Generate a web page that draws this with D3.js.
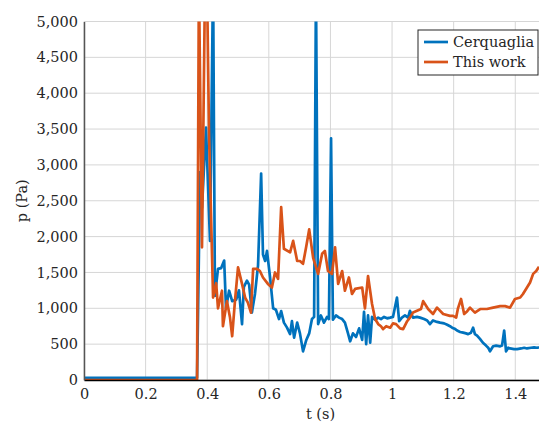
<!DOCTYPE html>
<html>
<head>
<meta charset="utf-8">
<script src="https://cdn.jsdelivr.net/npm/d3@7"></script>
<style>
  body { margin: 0; background: #fff; }
  svg text { font-family: "DejaVu Serif", serif; fill: #262626; }
</style>
</head>
<body>
<svg id="chart" width="539" height="424"></svg>
<script>
// Cerquaglia series (t in s, p in Pa)
const cerqT = [0, 0.367, 0.377, 0.383, 0.396, 0.409, 0.419, 0.425, 0.435, 0.445, 0.455, 0.461, 0.471, 0.481, 0.494, 0.503, 0.513, 0.519, 0.529, 0.536, 0.545, 0.555, 0.565, 0.575, 0.581, 0.588, 0.594, 0.604, 0.614, 0.623, 0.633, 0.640, 0.649, 0.659, 0.669, 0.675, 0.682, 0.692, 0.701, 0.711, 0.721, 0.731, 0.740, 0.747, 0.753, 0.760, 0.769, 0.779, 0.789, 0.795, 0.802, 0.808, 0.818, 0.828, 0.838, 0.847, 0.857, 0.864, 0.873, 0.883, 0.893, 0.903, 0.909, 0.916, 0.922, 0.929, 0.935, 0.945, 0.955, 0.964, 0.974, 0.984, 0.994, 1.003, 1.016, 1.023, 1.032, 1.042, 1.052, 1.058, 1.068, 1.081, 1.091, 1.104, 1.114, 1.123, 1.133, 1.146, 1.156, 1.169, 1.179, 1.188, 1.195, 1.205, 1.211, 1.221, 1.231, 1.240, 1.247, 1.256, 1.263, 1.269, 1.276, 1.286, 1.295, 1.305, 1.312, 1.318, 1.328, 1.338, 1.351, 1.357, 1.364, 1.370, 1.377, 1.383, 1.396, 1.406, 1.419, 1.429, 1.438, 1.451, 1.461, 1.471, 1.477];
const cerqP = [30, 30, 2900, 2400, 3520, 1940, 5600, 1175, 1550, 1560, 1665, 1000, 1245, 1100, 1120, 1250, 780, 1300, 1385, 1330, 940, 1200, 1600, 2880, 1750, 1660, 1800, 1430, 1000, 980, 850, 960, 800, 730, 640, 820, 590, 800, 650, 400, 550, 650, 850, 880, 5500, 780, 900, 800, 880, 850, 3370, 840, 900, 870, 850, 800, 650, 540, 650, 600, 720, 560, 950, 500, 900, 520, 880, 840, 870, 850, 880, 860, 870, 880, 1150, 820, 870, 900, 870, 965, 870, 880, 870, 850, 830, 780, 830, 810, 800, 790, 770, 750, 730, 710, 690, 670, 660, 650, 640, 660, 730, 640, 620, 570, 520, 480, 450, 400, 470, 480, 470, 480, 690, 400, 450, 440, 430, 430, 440, 450, 440, 450, 455, 450, 455];

// This work series
const workT = [0, 0.367, 0.373, 0.383, 0.393, 0.399, 0.406, 0.419, 0.429, 0.435, 0.448, 0.451, 0.464, 0.474, 0.481, 0.490, 0.500, 0.513, 0.523, 0.532, 0.542, 0.549, 0.562, 0.571, 0.581, 0.597, 0.610, 0.620, 0.630, 0.640, 0.649, 0.669, 0.679, 0.692, 0.701, 0.711, 0.721, 0.731, 0.744, 0.760, 0.773, 0.782, 0.792, 0.805, 0.815, 0.825, 0.838, 0.847, 0.860, 0.870, 0.880, 0.903, 0.912, 0.922, 0.935, 0.945, 0.955, 0.964, 0.971, 0.981, 0.994, 1.003, 1.013, 1.026, 1.036, 1.049, 1.058, 1.068, 1.081, 1.094, 1.101, 1.117, 1.133, 1.146, 1.166, 1.188, 1.198, 1.208, 1.214, 1.224, 1.234, 1.244, 1.253, 1.269, 1.286, 1.308, 1.328, 1.351, 1.367, 1.383, 1.399, 1.416, 1.425, 1.438, 1.448, 1.458, 1.468, 1.477];
const workP = [0, 0, 5600, 1850, 5600, 5600, 3400, 1150, 1350, 1000, 1245, 750, 1100, 870, 610, 1100, 1570, 1340, 1150, 1080, 940, 1550, 1550, 1520, 1430, 1340, 1290, 1500, 1410, 2410, 1830, 1780, 1940, 1660, 1660, 1620, 1850, 2100, 1700, 1480, 1760, 1800, 1520, 1480, 1850, 1340, 1520, 1245, 1430, 1200, 1270, 1290, 1000, 1450, 1060, 850, 780, 750, 710, 750, 730, 790, 780, 720, 710, 820, 870, 940, 965, 990, 1100, 990, 920, 1010, 920, 895, 895, 870, 1000, 1130, 920, 960, 1010, 940, 990, 990, 1010, 1030, 1030, 1010, 1130, 1150, 1200, 1290, 1360, 1480, 1520, 1580, 1700];

const xTicks = [0, 0.2, 0.4, 0.6, 0.8, 1, 1.2, 1.4];
const yTicks = [0, 500, 1000, 1500, 2000, 2500, 3000, 3500, 4000, 4500, 5000];
const seriesNames = ["Cerquaglia", "This work"];
const seriesColors = ["#0072BD", "#D95319"];

const margin = {left: 84, right: 0, top: 21.5, bottom: 44};
const width = 539, height = 424;
const fontSize = "14.5px";
const svg = d3.select("#chart");

const x = d3.scaleLinear().domain([0, 1.477]).range([margin.left, width - margin.right]);
const y = d3.scaleLinear().domain([0, 5000]).range([height - margin.bottom, margin.top]);

// grid
svg.append("g").selectAll("line").data(xTicks).join("line")
  .attr("x1", d => x(d)).attr("x2", d => x(d))
  .attr("y1", y(0)).attr("y2", y(5000))
  .attr("stroke", "#d6d6d6").attr("stroke-width", 1);
svg.append("g").selectAll("line").data(yTicks).join("line")
  .attr("x1", x(0)).attr("x2", width)
  .attr("y1", d => y(d)).attr("y2", d => y(d))
  .attr("stroke", "#d6d6d6").attr("stroke-width", 1);

// clip
svg.append("clipPath").attr("id", "clip").append("rect")
  .attr("x", margin.left).attr("y", margin.top)
  .attr("width", width - margin.left).attr("height", y(0) - margin.top);

const line = d3.line().x(d => x(d[0])).y(d => y(d[1]));
const series = [d3.zip(cerqT, cerqP), d3.zip(workT, workP)];

svg.append("g").attr("clip-path", "url(#clip)")
  .selectAll("path").data(series).join("path")
  .attr("d", line)
  .attr("fill", "none")
  .attr("stroke", (d, i) => seriesColors[i])
  .attr("stroke-width", 2.7)
  .attr("stroke-linejoin", "round");

// axes
const xAxis = svg.append("g").attr("transform", `translate(0,${y(0)})`)
  .call(d3.axisBottom(x).tickValues(xTicks).tickSize(0).tickPadding(9).tickFormat(d3.format("")));
xAxis.select(".domain").attr("stroke", "#000").attr("stroke-width", 1.5);
const yAxis = svg.append("g").attr("transform", `translate(${x(0)},0)`)
  .call(d3.axisLeft(y).tickValues(yTicks).tickSize(0).tickPadding(6).tickFormat(d3.format(",")));
yAxis.select(".domain").attr("stroke", "#555").attr("stroke-width", 1.5);
svg.selectAll(".tick text")
  .style("font-family", "'DejaVu Serif', serif")
  .style("font-size", fontSize)
  .attr("fill", "#262626");

// axis titles
svg.append("text").attr("x", (x(0) + width) / 2 + 9).attr("y", 419)
  .attr("text-anchor", "middle").style("font-size", fontSize).text("t (s)");
svg.append("text").attr("transform", `translate(27,${(y(0) + y(5000)) / 2}) rotate(-90)`)
  .attr("text-anchor", "middle").style("font-size", fontSize).text("p (Pa)");

// legend
const lg = svg.append("g").attr("transform", "translate(418,30)");
lg.append("rect").attr("width", 120).attr("height", 45)
  .attr("fill", "#fff").attr("stroke", "#262626").attr("stroke-width", 1);
seriesNames.forEach((name, i) => {
  const yy = 12 + i * 20;
  lg.append("line").attr("x1", 6).attr("x2", 30).attr("y1", yy).attr("y2", yy)
    .attr("stroke", seriesColors[i]).attr("stroke-width", 2.7);
  lg.append("text").attr("x", 35).attr("y", yy + 5)
    .style("font-size", fontSize).text(name);
});
</script>
</body>
</html>
